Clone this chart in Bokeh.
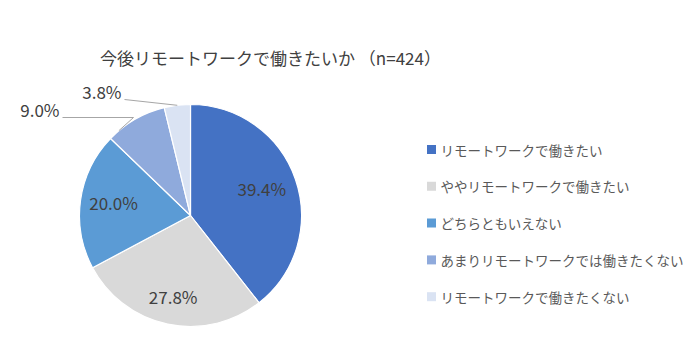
import math
from bokeh.plotting import figure
from bokeh.models import Range1d, ColumnDataSource
from bokeh.core.properties import value
from bokeh.embed import file_html
from bokeh.resources import INLINE

title = "今後リモートワークで働きたいか （n=424）"
categories = ["リモートワークで働きたい", "ややリモートワークで働きたい", "どちらともいえない",
              "あまりリモートワークでは働きたくない", "リモートワークで働きたくない"]
values = [39.4, 27.8, 20.0, 9.0, 3.8]
labels = ["39.4%", "27.8%", "20.0%", "9.0%", "3.8%"]
colors = ["#4472C4", "#D9D9D9", "#5B9BD5", "#8FAADC", "#DAE3F3"]

W, H = 700, 356
FONT = "Noto Sans CJK JP"

p = figure(width=W, height=H, output_backend="svg", toolbar_location=None,
           x_range=Range1d(0, W), y_range=Range1d(0, H), min_border=0)
p.axis.visible = False
p.grid.visible = False
p.outline_line_color = None
p.background_fill_color = "white"

cx, cy, r = 190, H - 215, 111
total = sum(values)
starts, ends, mids = [], [], []
a = math.pi / 2
for v in values:
    da = 2 * math.pi * v / total
    starts.append(a - da)
    ends.append(a)
    mids.append(a - da / 2)
    a -= da

src = ColumnDataSource(dict(start=starts, end=ends, color=colors))
p.wedge(x=cx, y=cy, radius=r, start_angle="start", end_angle="end",
        fill_color="color", line_color="white", line_width=1.2, source=src)

# inside labels
in_idx = [0, 1, 2]
fr = [0.68, 0.76, 0.70]
p.text(x=[cx + r * f * math.cos(mids[i]) for i, f in zip(in_idx, fr)],
       y=[cy + r * f * math.sin(mids[i]) + 2 for i, f in zip(in_idx, fr)],
       text=[labels[i] for i in in_idx], text_align="center", text_baseline="middle",
       text_font=value(FONT), text_font_size="17px", text_color="#404040")

# outside labels with leader lines
out = {3: (62, H - 117, 133, H - 117), 4: (124, H - 99, None, None)}
for i, (lx, ly, bx, by) in out.items():
    ex = cx + r * math.cos(mids[i] + (0.18 if i == 3 else 0.0))
    ey = cy + r * math.sin(mids[i] + (0.18 if i == 3 else 0.0))
    xs = [lx] + ([bx] if bx is not None else []) + [ex]
    ys = [ly] + ([by] if by is not None else []) + [ey]
    p.line(xs, ys, line_color="#A6A6A6", line_width=1)
    p.text(x=[lx - 3], y=[ly + 8], text=[labels[i]], text_align="right",
           text_baseline="middle", text_font=value(FONT), text_font_size="17px",
           text_color="#404040")

# title
p.text(x=[270], y=[H - 57], text=[title], text_align="center", text_baseline="middle",
       text_font=value(FONT), text_font_size="17px", text_color="#404040")

# legend
ly0, dy = H - 149, 36.8
ys = [ly0 - k * dy for k in range(len(categories))]
p.rect(x=[431] * len(categories), y=ys, width=9, height=9, fill_color=colors, line_color=None)
p.text(x=[440] * len(categories), y=ys, text=categories, text_baseline="middle",
       text_font=value(FONT), text_font_size="13.5px", text_color="#595959")

open("out.html", "w").write(file_html(p, INLINE))
